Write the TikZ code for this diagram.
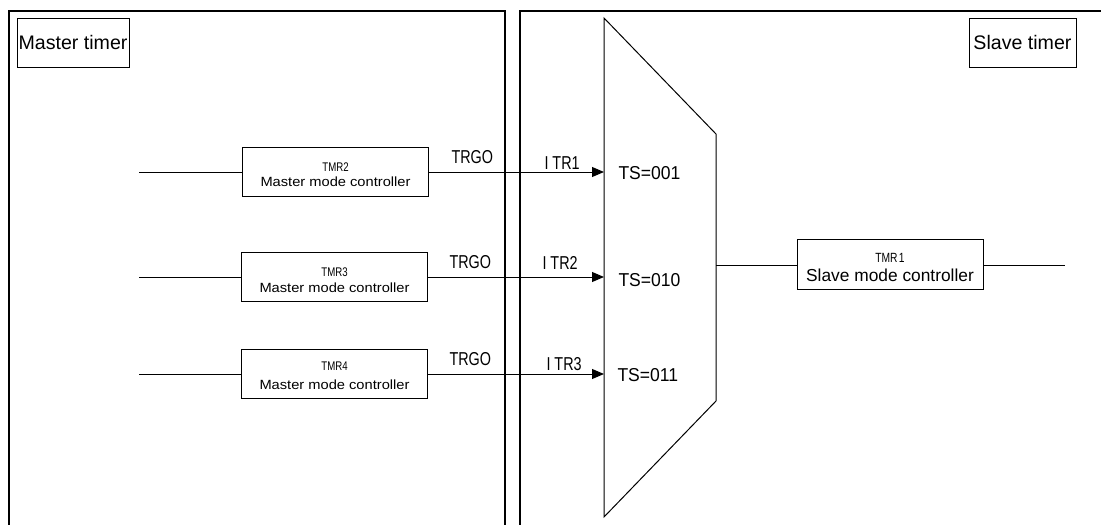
\documentclass[tikz,border=0pt]{standalone}
\usepackage{fontspec}
\setmainfont{Liberation Sans}
\newfontfamily\narrowfont[FakeStretch=0.77]{Liberation Sans}
\newfontfamily\tsfont[FakeStretch=0.94]{Liberation Sans}
\newfontfamily\widefont[FakeStretch=1.1]{Liberation Sans}
\usetikzlibrary{arrows.meta}
\begin{document}
\begin{tikzpicture}[x=0.75pt,y=-0.75pt,
  line width=0.75pt,
  frame/.style={line width=0.85pt},
  titlebox/.style={draw,inner sep=0pt,minimum height=36.75pt,font=\fontsize{14.7}{16}\selectfont},
  ctrlbox/.style={draw,inner sep=0pt,minimum width=140pt,minimum height=36.75pt},
  tmrtxt/.style={anchor=base,inner sep=0pt,font=\narrowfont\fontsize{9.4}{10}\selectfont},
  mmctxt/.style={anchor=base,inner sep=0pt,font=\widefont\fontsize{10}{11}\selectfont},
  sigtxt/.style={anchor=base west,inner sep=0pt,font=\narrowfont\fontsize{14}{15}\selectfont},
  tstxt/.style={anchor=base west,inner sep=0pt,font=\tsfont\fontsize{14}{15}\selectfont},
  arr/.style={-{Triangle[length=9pt,width=7.5pt]}}
]
\useasboundingbox (0,0) rectangle (1101,525);
% frames
\draw[frame] (9,525) -- (9,11) -- (505,11) -- (505,525);
\draw[frame] (520,525) -- (520,11) -- (1101,11);
% titles
\node[titlebox,minimum width=84pt] (mt) at (73,42.5) {Master timer};
\node[titlebox,minimum width=80.25pt] (st) at (1022.5,42.5) {Slave timer};
% multiplexer
\draw (604,18) -- (716,134) -- (716,401) -- (604,517) -- cycle;
\coordinate (m1) at (604,172);
\coordinate (m2) at (604,277);
\coordinate (m3) at (604,374);
\coordinate (mo) at (716,265);
% master controllers
\node[ctrlbox] (t2) at (335.5,172) {};
\node[ctrlbox] (t3) at (334.5,276.5) {};
\node[ctrlbox] (t4) at (334.5,373.5) {};
\node[tmrtxt] (t2a) at (335.5,171.7) {TMR2};
\node[mmctxt] (t2b) at (335.5,186.7) {Master mode controller};
\node[tmrtxt] (t3a) at (334.5,276.7) {TMR3};
\node[mmctxt] (t3b) at (334.5,292) {Master mode controller};
\node[tmrtxt] (t4a) at (334.5,370.7) {TMR4};
\node[mmctxt] (t4b) at (334.5,389) {Master mode controller};
\coordinate (s2) at (139,172);
\coordinate (s3) at (139,277);
\coordinate (s4) at (139,374);
\draw (s2) -- (t2.west);
\draw (s3) -- (t3.west |- s3);
\draw (s4) -- (t4.west |- s4);
\draw[arr] (t2.east) -- (m1);
\draw[arr] (t3.east |- m2) -- (m2);
\draw[arr] (t4.east |- m3) -- (m3);
% labels
\node[sigtxt] (g1) at (451,163.3) {TRGO};
\node[sigtxt] (g2) at (449,268.3) {TRGO};
\node[sigtxt] (g3) at (449,365) {TRGO};
\node[sigtxt] (i1) at (544,169.3) {I\kern3pt TR1};
\node[sigtxt] (i2) at (542,269) {I\kern3pt TR2};
\node[sigtxt] (i3) at (546,370.7) {I\kern3pt TR3};
\node[tstxt] (ts1) at (618,179.3) {TS=001};
\node[tstxt] (ts2) at (618,286) {TS=010};
\node[tstxt] (ts3) at (617,381.7) {TS=011};
% slave controller
\node[ctrlbox,minimum width=139.5pt,minimum height=37.5pt] (t1) at (890,264.3) {};
\node[tmrtxt,font=\narrowfont\fontsize{10}{12}\selectfont] (t1a) at (890,262.3) {TMR\kern1pt 1};
\node[mmctxt,font=\fontsize{13}{14}\selectfont] (t1b) at (890,281.7) {Slave mode controller};
\coordinate (so) at (1065,265);
\draw (mo) -- (t1.west |- mo);
\draw (t1.east |- so) -- (so);
\end{tikzpicture}
\end{document}
